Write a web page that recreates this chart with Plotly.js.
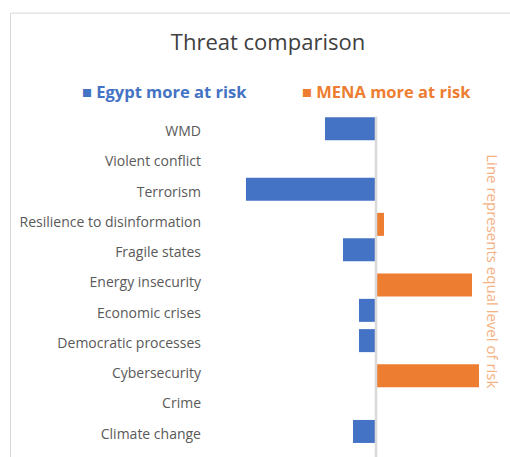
<!DOCTYPE html>
<html>
<head>
<meta charset="utf-8">
<script src="https://cdn.plot.ly/plotly-3.0.1.min.js"></script>
<style>html,body{margin:0;padding:0;background:#fff;}#chart{width:510px;height:457px;}</style>
</head>
<body>
<div id="chart"></div>
<script>
const categories = ["WMD", "Violent conflict", "Terrorism", "Resilience to disinformation", "Fragile states", "Energy insecurity", "Economic crises", "Democratic processes", "Cybersecurity", "Crime", "Climate change"];
const egyptMoreAtRisk = [-5.1, null, -13.0, null, -3.3, null, -1.7, -1.7, null, null, -2.3];
const menaMoreAtRisk = [null, null, null, 0.8, null, 9.6, null, null, 10.3, null, null];
const seriesNames = ["Egypt more at risk", "MENA more at risk"];
const seriesColors = ["#4472C4", "#ED7D31"];

const L = 210, R = 20, T = 115.5, B = 8;
const W = 510, H = 457;
const pw = W - L - R, ph = H - T - B;
const px = v => (v - L) / pw;
const py = v => (H - B - v) / ph;

const traces = [
  {type: "bar", orientation: "h", y: categories, x: egyptMoreAtRisk, name: seriesNames[0],
   marker: {color: seriesColors[0]}, width: 0.76, offset: -0.46, showlegend: false, hoverinfo: "x+y"},
  {type: "bar", orientation: "h", y: categories, x: menaMoreAtRisk, name: seriesNames[1],
   marker: {color: seriesColors[1]}, width: 0.76, offset: -0.30, showlegend: false, hoverinfo: "x+y"}
];

const layout = {
  width: W, height: H,
  margin: {l: L, r: R, t: T, b: B, pad: 0},
  paper_bgcolor: "#ffffff", plot_bgcolor: "#ffffff",
  barmode: "overlay",
  font: {family: "Open Sans, sans-serif", color: "#595959"},
  title: {text: "Threat comparison", font: {size: 22, color: "#404040", family: "Open Sans, sans-serif"},
          x: 268 / W, xanchor: "center", y: 1 - 42 / H, yanchor: "middle"},
  xaxis: {range: [-16.6, 11.4], showgrid: false, zeroline: false, showticklabels: false, ticks: "", fixedrange: true},
  yaxis: {type: "category", autorange: "reversed", showgrid: false, zeroline: false, ticks: "",
          tickfont: {size: 14, color: "#595959", family: "Open Sans, sans-serif"}, ticklabelstandoff: 8, fixedrange: true},
  shapes: [
    {type: "rect", xref: "paper", yref: "paper", x0: px(10.5), x1: px(560), y0: py(500), y1: py(12.5),
     line: {color: "#D9D9D9", width: 1}, fillcolor: "rgba(0,0,0,0)", layer: "below"},
    {type: "line", xref: "x", yref: "paper", x0: 0, x1: 0, y0: py(470), y1: py(116),
     line: {color: "#D9D9D9", width: 2.5}, layer: "above"}
  ],
  annotations: [
    {xref: "paper", yref: "paper", x: px(80), y: py(91), xanchor: "left", yanchor: "middle", showarrow: false,
     text: "■ " + seriesNames[0], font: {size: 16.5, color: seriesColors[0], family: "Open Sans, sans-serif", weight: "bold"}},
    {xref: "paper", yref: "paper", x: px(300), y: py(91), xanchor: "left", yanchor: "middle", showarrow: false,
     text: "■ " + seriesNames[1], font: {size: 16.5, color: seriesColors[1], family: "Open Sans, sans-serif", weight: "bold"}},
    {xref: "paper", yref: "paper", x: px(493), y: py(271), xanchor: "center", yanchor: "middle", showarrow: false,
     textangle: 90, text: "Line represents equal level of risk", font: {size: 15, color: "#F4B183", family: "Open Sans, sans-serif"}}
  ]
};

Plotly.newPlot("chart", traces, layout, {displayModeBar: false, staticPlot: true});
</script>
</body>
</html>
